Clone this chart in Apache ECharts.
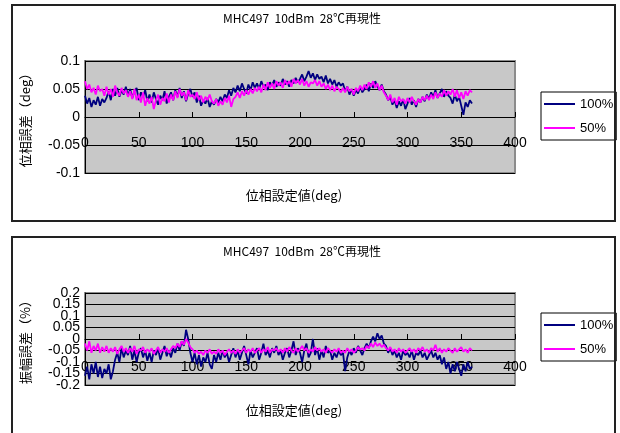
<!DOCTYPE html>
<html>
<head>
<meta charset="utf-8">
<script src="https://cdn.jsdelivr.net/npm/echarts@6/dist/echarts.min.js"></script>
<style>
html,body{margin:0;padding:0;background:#fff;}
#c{width:620px;height:433px;}
</style>
</head>
<body>
<div id="c"></div>
<script>
// ---- data ----
const chartTitle = 'MHC497  10dBm  28℃再現性';
const seriesNames = ['100%', '50%'];
const xTicks = [0, 50, 100, 150, 200, 250, 300, 350, 400];
const phaseTicks = [-0.1, -0.05, 0, 0.05, 0.1];
const ampTicks = [-0.2, -0.15, -0.1, -0.05, 0, 0.05, 0.1, 0.15, 0.2];
// phase set points, 0..360 deg every 2 deg
const setDeg = Array.from({length: 181}, (_, i) => i * 2);

const phase100 = [
 0.038,0.024,0.034,0.018,0.030,0.022,0.036,0.020,0.032,0.026,
 0.034,0.046,0.030,0.050,0.038,0.052,0.036,0.048,0.040,0.054,
 0.038,0.050,0.034,0.046,0.052,0.030,0.044,0.036,0.048,0.028,
 0.040,0.026,0.044,0.032,0.022,0.038,0.030,0.046,0.024,0.036,
 0.044,0.030,0.048,0.036,0.052,0.034,0.046,0.028,0.042,0.050,
 0.036,0.044,0.026,0.038,0.020,0.030,0.024,0.034,0.018,0.028,
 0.022,0.032,0.026,0.036,0.028,0.040,0.034,0.048,0.038,0.052,
 0.044,0.056,0.046,0.060,0.050,0.042,0.058,0.048,0.062,0.052,
 0.060,0.050,0.064,0.054,0.058,0.048,0.062,0.056,0.066,0.054,
 0.062,0.056,0.068,0.058,0.064,0.054,0.066,0.060,0.070,0.062,
 0.068,0.076,0.064,0.072,0.082,0.070,0.078,0.066,0.076,0.068,
 0.072,0.062,0.074,0.060,0.068,0.058,0.066,0.054,0.062,0.056,
 0.060,0.046,0.054,0.040,0.050,0.038,0.048,0.042,0.054,0.044,
 0.050,0.058,0.046,0.060,0.052,0.064,0.054,0.048,0.058,0.046,
 0.040,0.030,0.036,0.022,0.030,0.016,0.028,0.020,0.032,0.014,
 0.024,0.034,0.022,0.030,0.018,0.032,0.026,0.036,0.028,0.040,
 0.032,0.044,0.036,0.048,0.034,0.042,0.050,0.036,0.046,0.038,
 0.034,0.024,0.040,0.028,0.036,0.020,0.004,0.026,0.018,0.030,
 0.024
];
const phase50 = [
 0.064,0.050,0.058,0.044,0.052,0.040,0.056,0.046,0.050,0.038,
 0.054,0.040,0.050,0.036,0.056,0.044,0.038,0.052,0.042,0.048,
 0.036,0.046,0.032,0.050,0.030,0.040,0.026,0.044,0.020,0.034,
 0.024,0.036,0.014,0.030,0.040,0.022,0.034,0.028,0.042,0.026,
 0.040,0.030,0.046,0.034,0.050,0.038,0.044,0.030,0.048,0.036,
 0.040,0.032,0.044,0.030,0.038,0.026,0.036,0.030,0.040,0.028,
 0.024,0.032,0.020,0.028,0.022,0.034,0.026,0.038,0.018,0.032,
 0.036,0.044,0.034,0.046,0.038,0.048,0.040,0.050,0.042,0.052,
 0.046,0.054,0.044,0.058,0.048,0.062,0.052,0.060,0.050,0.064,
 0.056,0.062,0.052,0.066,0.058,0.064,0.054,0.068,0.060,0.066,
 0.058,0.068,0.056,0.064,0.054,0.062,0.060,0.066,0.056,0.064,
 0.054,0.060,0.050,0.058,0.048,0.056,0.046,0.054,0.050,0.044,
 0.052,0.044,0.054,0.046,0.050,0.040,0.052,0.046,0.056,0.048,
 0.058,0.050,0.062,0.054,0.064,0.052,0.060,0.048,0.056,0.044,
 0.038,0.030,0.040,0.026,0.034,0.022,0.036,0.028,0.032,0.024,
 0.034,0.026,0.036,0.028,0.022,0.032,0.026,0.036,0.030,0.038,
 0.030,0.040,0.032,0.044,0.034,0.042,0.036,0.048,0.038,0.046,
 0.040,0.050,0.036,0.048,0.034,0.044,0.032,0.046,0.038,0.048,
 0.044
];
const amp100 = [
 -0.160,-0.120,-0.175,-0.110,-0.150,-0.100,-0.165,-0.120,-0.170,-0.130,
 -0.150,-0.110,-0.175,-0.140,-0.090,-0.060,-0.100,-0.040,-0.080,-0.050,
 -0.070,-0.030,-0.090,-0.050,-0.100,-0.060,-0.040,-0.080,-0.050,-0.095,
 -0.060,-0.100,-0.050,-0.070,-0.040,-0.090,-0.060,-0.030,-0.075,-0.050,
 -0.080,-0.040,-0.060,-0.020,-0.050,-0.010,-0.030,0.040,0.000,-0.060,
 -0.100,-0.060,-0.110,-0.070,-0.120,-0.080,-0.100,-0.060,-0.110,-0.130,
 -0.070,-0.100,-0.060,-0.090,-0.050,-0.080,-0.060,-0.100,-0.070,-0.040,
 -0.080,-0.050,-0.090,-0.060,-0.030,-0.070,-0.110,-0.050,-0.080,-0.060,
 -0.040,-0.090,-0.060,-0.020,-0.070,-0.050,-0.080,-0.040,-0.060,-0.030,
 -0.070,-0.050,-0.090,-0.060,-0.040,-0.080,-0.050,-0.010,-0.070,-0.040,
 -0.060,-0.100,-0.050,-0.020,-0.080,-0.060,0.000,-0.070,-0.040,-0.090,
 -0.050,-0.080,-0.030,-0.060,-0.050,-0.090,-0.060,-0.080,-0.050,-0.070,
 -0.060,-0.140,-0.080,-0.050,-0.070,-0.040,-0.060,-0.030,-0.050,-0.070,
 -0.040,-0.020,-0.040,-0.010,0.010,-0.010,0.025,0.000,0.015,-0.020,
 -0.030,-0.060,-0.040,-0.070,-0.050,-0.080,-0.060,-0.090,-0.050,-0.070,
 -0.060,-0.080,-0.050,-0.090,-0.060,-0.070,-0.050,-0.080,-0.060,-0.090,
 -0.070,-0.050,-0.080,-0.060,-0.090,-0.070,-0.110,-0.080,-0.130,-0.100,
 -0.150,-0.110,-0.140,-0.100,-0.130,-0.160,-0.110,-0.140,-0.100,-0.130,
 -0.120
];
const amp50 = [
 -0.020,-0.050,-0.010,-0.060,-0.030,-0.050,-0.020,-0.060,-0.035,-0.055,
 -0.030,-0.060,-0.040,-0.055,-0.035,-0.065,-0.045,-0.030,-0.055,-0.040,
 -0.060,-0.040,-0.055,-0.030,-0.065,-0.045,-0.050,-0.035,-0.060,-0.045,
 -0.055,-0.040,-0.065,-0.050,-0.035,-0.060,-0.045,-0.055,-0.040,-0.060,
 -0.045,-0.030,-0.040,-0.020,-0.035,-0.010,-0.025,0.000,-0.015,-0.035,
 -0.045,-0.060,-0.050,-0.065,-0.055,-0.070,-0.050,-0.060,-0.045,-0.065,
 -0.055,-0.065,-0.045,-0.060,-0.050,-0.070,-0.055,-0.045,-0.060,-0.050,
 -0.065,-0.045,-0.060,-0.050,-0.040,-0.060,-0.045,-0.055,-0.040,-0.060,
 -0.050,-0.040,-0.060,-0.045,-0.055,-0.035,-0.060,-0.045,-0.050,-0.040,
 -0.055,-0.045,-0.060,-0.040,-0.055,-0.035,-0.050,-0.060,-0.040,-0.055,
 -0.045,-0.030,-0.050,-0.040,-0.060,-0.045,-0.055,-0.035,-0.050,-0.040,
 -0.055,-0.045,-0.060,-0.040,-0.050,-0.060,-0.045,-0.055,-0.040,-0.060,
 -0.050,-0.060,-0.040,-0.055,-0.045,-0.060,-0.050,-0.035,-0.045,-0.040,
 -0.050,-0.030,-0.040,-0.020,-0.035,-0.015,-0.030,-0.020,-0.035,-0.025,
 -0.040,-0.050,-0.035,-0.055,-0.045,-0.060,-0.040,-0.055,-0.045,-0.060,
 -0.050,-0.040,-0.055,-0.045,-0.060,-0.040,-0.050,-0.035,-0.055,-0.045,
 -0.060,-0.040,-0.050,-0.025,-0.055,-0.040,-0.060,-0.045,-0.055,-0.040,
 -0.050,-0.060,-0.040,-0.055,-0.045,-0.035,-0.055,-0.045,-0.060,-0.040,
 -0.050
];

// ---- chart ----
const FONT = '"Liberation Sans", Arial, sans-serif';
const CJK = '"Noto Sans CJK JP", sans-serif';
const colors = ['#000080', '#ff00ff'];
const pair = (arr) => arr.map((v, i) => [setDeg[i], v]);
const fmt = (v) => String(Math.round(v * 100) / 100);

// zeroOffset: distance (px) from the grid bottom up to the y=0 line
function xAxisFor(gi, margin, zeroOffset) {
  return {
    type: 'value', gridIndex: gi, position: 'bottom', offset: -zeroOffset,
    min: xTicks[0], max: xTicks[xTicks.length - 1], interval: xTicks[1] - xTicks[0],
    axisLine: {onZero: false, lineStyle: {color: '#000', width: 1}},
    axisTick: {show: true, inside: true, length: 5, lineStyle: {color: '#000'}},
    axisLabel: {color: '#000', fontSize: 14, fontFamily: FONT, margin: margin,
      showMinLabel: true, showMaxLabel: true, interval: 0},
    splitLine: {show: false}
  };
}
function yAxisFor(gi, ticks, name, nameSize, labelValues, drawLines) {
  const label = {color: '#000', fontSize: 14, fontFamily: FONT, margin: 5,
    showMinLabel: true, showMaxLabel: true, hideOverlap: false, interval: 0,
    formatter: fmt};
  if (labelValues) label.customValues = labelValues;
  return {
    type: 'value', gridIndex: gi, position: 'left',
    min: ticks[0], max: ticks[ticks.length - 1], interval: ticks[1] - ticks[0],
    name: name, nameLocation: 'middle', nameGap: 53, nameRotate: 90,
    nameTextStyle: {color: '#000', fontSize: nameSize, fontFamily: CJK},
    axisLine: {show: drawLines, onZero: false, lineStyle: {color: '#000', width: 1}},
    axisTick: {show: false},
    axisLabel: label,
    splitLine: {show: drawLines, lineStyle: {color: '#000', width: 1}}
  };
}
function legendFor(top) {
  return {
    orient: 'vertical', left: 541, top: top,
    data: seriesNames,
    icon: 'rect', itemWidth: 31, itemHeight: 2, itemGap: 10,
    padding: [5, 3, 5, 3],
    borderColor: '#000', borderWidth: 1,
    backgroundColor: '#fff',
    textStyle: {color: '#000', fontSize: 13, fontFamily: FONT, lineHeight: 14},
    selectedMode: false
  };
}
function lineSeries(name, data, xi, yi, color) {
  return {
    type: 'line', name: name, xAxisIndex: xi, yAxisIndex: yi,
    data: pair(data), showSymbol: false, symbol: 'none',
    lineStyle: {color: color, width: 1.8}, itemStyle: {color: color},
    animation: false
  };
}

const ampEven = ampTicks.filter((_, i) => i % 2 === 0);
const ampOdd = ampTicks.filter((_, i) => i % 2 === 1);

const chart = echarts.init(document.getElementById('c'), null, {renderer: 'canvas'});
chart.setOption({
  backgroundColor: '#fff',
  animation: false,
  grid: [
    {left: 85, top: 61, width: 430, height: 112, show: true,
     backgroundColor: '#c8c8c8', borderColor: '#8c8c8c', borderWidth: 2},
    {left: 85, top: 293, width: 430, height: 92, show: true,
     backgroundColor: '#c8c8c8', borderColor: '#8c8c8c', borderWidth: 2}
  ],
  xAxis: [xAxisFor(0, 19, 56), xAxisFor(1, 21, 46)],
  yAxis: [
    yAxisFor(0, phaseTicks, '位相誤差（deg）', 13, null, true),
    yAxisFor(1, ampTicks, '振幅誤差（%）', 13, ampEven, true),
    yAxisFor(1, ampTicks, '', 13, ampOdd, false)
  ],
  legend: [legendFor(92), legendFor(313)],
  series: [
    lineSeries(seriesNames[0], phase100, 0, 0, colors[0]),
    lineSeries(seriesNames[1], phase50, 0, 0, colors[1]),
    lineSeries(seriesNames[0], amp100, 1, 1, colors[0]),
    lineSeries(seriesNames[1], amp50, 1, 1, colors[1])
  ],
  graphic: [
    {type: 'rect', shape: {x: 12, y: 5, width: 603, height: 216},
     style: {fill: 'none', stroke: '#222', lineWidth: 2}, z: 100},
    {type: 'rect', shape: {x: 12, y: 237, width: 603, height: 215},
     style: {fill: 'none', stroke: '#222', lineWidth: 2}, z: 100},
    {type: 'text', x: 302, y: 18, z: 100,
     style: {text: chartTitle, fill: '#000', font: '12px ' + CJK, textAlign: 'center', textVerticalAlign: 'middle'}},
    {type: 'text', x: 302, y: 251, z: 100,
     style: {text: chartTitle, fill: '#000', font: '12px ' + CJK, textAlign: 'center', textVerticalAlign: 'middle'}},
    {type: 'text', x: 294, y: 195, z: 100,
     style: {text: '位相設定値(deg)', fill: '#000', font: '13px ' + CJK, textAlign: 'center', textVerticalAlign: 'middle'}},
    {type: 'text', x: 294, y: 410, z: 100,
     style: {text: '位相設定値(deg)', fill: '#000', font: '13px ' + CJK, textAlign: 'center', textVerticalAlign: 'middle'}}
  ]
});
</script>
</body>
</html>
